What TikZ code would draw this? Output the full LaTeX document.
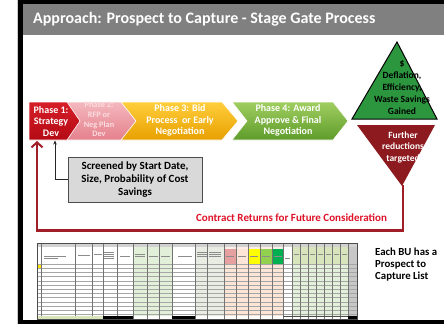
\documentclass[tikz,border=0pt]{standalone}
\usepackage{fontspec}
\setmainfont{Carlito}
\usetikzlibrary{arrows.meta}
\definecolor{headgray}{RGB}{128,128,128}
\definecolor{p1top}{RGB}{214,30,40}
\definecolor{p1bot}{RGB}{180,10,20}
\definecolor{p2top}{RGB}{244,184,190}
\definecolor{p2bot}{RGB}{228,128,140}
\definecolor{p2text}{RGB}{250,220,224}
\definecolor{p3top}{RGB}{255,206,60}
\definecolor{p3bot}{RGB}{232,160,0}
\definecolor{p4top}{RGB}{160,206,96}
\definecolor{p4bot}{RGB}{94,156,42}
\definecolor{gaingreen}{RGB}{44,150,62}
\definecolor{furtherred}{RGB}{140,26,30}
\definecolor{returnred}{RGB}{160,30,40}
\definecolor{contractred}{RGB}{222,18,40}
\definecolor{notegray}{RGB}{217,217,217}
\definecolor{shLgreen}{RGB}{226,239,217}
\definecolor{shHgreen}{RGB}{216,228,188}
\definecolor{shPeach}{RGB}{252,228,214}
\definecolor{shPink}{RGB}{230,160,160}
\definecolor{shYellow}{RGB}{255,255,0}
\definecolor{shMgreen}{RGB}{146,208,80}
\definecolor{shDgreen}{RGB}{0,176,80}
\definecolor{shGray}{RGB}{232,236,226}
\begin{document}
\begin{tikzpicture}[x=1pt,y=-1pt,
  phasetext/.style={font=\bfseries\fontsize{10}{11.6}\selectfont, text=white, align=center, inner sep=0pt},
  chev/.style={draw=white, line width=0.6pt, line join=miter},
  gatetext/.style={font=\bfseries\fontsize{9.5}{12}\selectfont, align=center, inner sep=0pt},
  notebox/.style={draw=black!70, fill=notegray, line width=0.8pt, minimum width=134pt, minimum height=45pt,
    font=\bfseries\fontsize{11}{13}\selectfont, align=center, inner sep=0pt},
  returnline/.style={draw=returnred, line width=2.6pt, -{Straight Barb[length=5pt,width=11pt,line width=2pt]}},
  noteline/.style={draw=black!85, line width=0.8pt, -{Stealth[length=4pt,width=3.5pt]}},
  grid/.style={draw=black!35, line width=0.3pt},
  colline/.style={draw=black!55, line width=0.4pt}]
\useasboundingbox (0,0) rectangle (444,324);
\fill[white] (0,0) rectangle (444,324);

% slide frame and title bar
\draw[black!20, line width=0.6pt] (17.5,0) -- (17.5,324);
\fill[black] (18,0) rectangle (444,4);
\fill[black] (18,0) rectangle (23,324);
\fill[black] (18,319.5) rectangle (444,324);
\fill[headgray] (23,4) rectangle (444,35);
\node[anchor=west, inner sep=0pt, text=white, font=\bfseries\fontsize{16}{18}\selectfont] (title) at (33,19.5)
  {Approach: Prospect to Capture - Stage Gate Process};

% stage chevrons
\shade[chev, top color=p2top, bottom color=p2bot]
  (65,102) -- (125,102) -- (138,121) -- (125,140) -- (65,140) -- (78,121) -- cycle;
\shade[chev, top color=p1top, bottom color=p1bot]
  (29,102) -- (67,102) -- (80,121) -- (67,140) -- (29,140) -- cycle;
\shade[chev, top color=p3top, bottom color=p3bot]
  (121,102) -- (222,102) -- (238,121) -- (222,140) -- (121,140) -- (136,121) -- cycle;
\shade[chev, top color=p4top, bottom color=p4bot]
  (232,102) -- (333,102) -- (348,121) -- (333,140) -- (232,140) -- (247,121) -- cycle;

\node[phasetext] (p1) at (51,121.5) {Phase 1:\\Strategy\\Dev};
\node[phasetext, text=p2text, font=\bfseries\fontsize{8.3}{9.6}\selectfont] (p2) at (99,119.5) {Phase 2:\\RFP or\\Neg Plan\\Dev};
\node[phasetext] (p3) at (180,120.5) {Phase 3: Bid\\Process\ \ or Early\\Negotiation};
\node[phasetext] (p4) at (288,120.5) {Phase 4: Award\\Approve \& Final\\Negotiation};
\coordinate (p1in) at (37,141);
\coordinate (p1note) at (55,140.5);

% gate diamond
\fill[gaingreen, draw=black, line width=1pt, line join=miter] (397,42) -- (437,119) -- (352,119) -- cycle;
\fill[furtherred] (357,125) -- (435,125) -- (402,186) -- cycle;
\node[gatetext, text=black] (gain) at (402,87) {\$\\Deflation,\\Efficiency,\\Waste Savings\\Gained};
\node[gatetext, text=white, font=\bfseries\fontsize{9.5}{11.5}\selectfont] (further) at (403,147) {Further\\reductions\\targeted};
\coordinate (redtip) at (403,185);

% return path back to phase 1
\draw[returnline] (redtip) -- (403,230.5) -| (p1in);
\node[inner sep=0pt, text=contractred, font=\bfseries\fontsize{11}{13}\selectfont] (contract) at (291.5,218) {Contract Returns for Future Consideration};

% screening note
\node[notebox] (screen) at (135,179.5) {Screened by Start Date,\\Size, Probability of Cost\\Savings};
\draw[noteline] (screen.west) -| (p1note);

% prospect-to-capture worksheet
\begin{scope}
  \fill[white] (37,243) rectangle (357,319.5);
  % header band
  \fill[black!18] (37,243) rectangle (357,247);
  % shaded column groups
  \fill[shLgreen] (133,247) rectangle (172,316);
  \fill[shGray] (195,247) rectangle (224,316);
  \fill[shPeach] (224,264) rectangle (283,316);
  \fill[shLgreen] (292,264) rectangle (348,316);
  \fill[shHgreen] (292,247) rectangle (348,264);
  \fill[black!22] (348,247) rectangle (357,316);
  % coloured stage headings
  \fill[shPink] (224,249) rectangle (236,264);
  \fill[shPeach] (236,249) rectangle (248,264);
  \fill[shYellow] (248,249) rectangle (260,264);
  \fill[shMgreen] (260,249) rectangle (272,264);
  \fill[shDgreen] (272,249) rectangle (283,264);
  \fill[shPeach!60] (224,247) rectangle (283,249);
  % highlighted first cell
  \fill[shYellow!80!orange] (37,265) rectangle (41,268);
  % row lines
  \foreach \r in {264,268.2,...,316} \draw[grid] (37,\r) -- (357,\r);
  % column lines
  \foreach \c in {41,75,92,103,117,133,147,159,172,195,207,224,236,248,260,272,283,292,300,308,316,324,332,340,348}
    \draw[colline] (\c,243) -- (\c,319.5);
  % totals row
  \fill[shHgreen] (37,316) rectangle (103,319.5);
  \fill[black] (103,316) rectangle (133,319.5);
  \fill[black] (172,316) rectangle (195,319.5);
  \fill[black!70] (283,316) rectangle (348,317.2);
  \fill[black] (348,316) rectangle (357,319.5);
  % header cell marks
  \foreach \x/\y/\w in {44/256/22, 44/258/14, 78/255/12, 94/254/8, 104/252/10, 104/254/10, 104/256/10, 104/258/10, 120/256/10,
      135/254/10, 135/256/10, 149/256/9, 161/256/9, 178/256/14, 197/252/10, 197/254/10, 197/256/10, 209/252/12, 209/254/12, 209/256/12,
      226/256/8, 238/256/8, 250/256/8, 262/256/8, 274/256/8, 285/258/5, 294/254/5, 302/254/5, 310/254/5, 318/254/5, 326/254/5, 334/254/5, 342/254/5}
    \draw[black!45, line width=0.6pt] (\x,\y) -- ++(\w,0);
  \draw[black!70, line width=0.5pt] (37,243) rectangle (357,319.5);
\end{scope}

% worksheet caption
\node[anchor=north west, inner sep=0pt, align=left, font=\bfseries\fontsize{10.8}{11.8}\selectfont] (bulist) at (375,248)
  {Each BU has a\\Prospect to\\Capture List};
\end{tikzpicture}
\end{document}
